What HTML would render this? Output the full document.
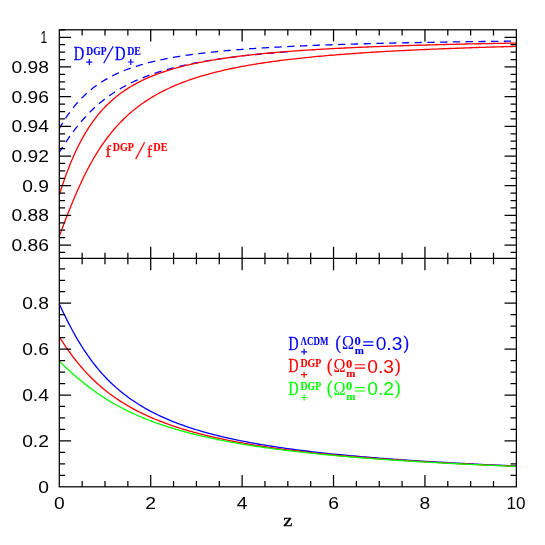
<!DOCTYPE html>
<html><head><meta charset="utf-8"><title>plot</title>
<style>
html,body{margin:0;padding:0;background:#fff;}
svg{display:block;}
text{font-family:"Liberation Sans",sans-serif;}
.se{font-family:"Liberation Serif",serif;}
.sk{stroke-width:0.35;paint-order:stroke;}
.sb{stroke-width:0.12;paint-order:stroke;}
</style></head><body>
<svg width="545" height="545" viewBox="0 0 545 545">
<rect width="545" height="545" fill="#fff"/>
<g fill="none" stroke-width="1.3" stroke-linejoin="round">
<path stroke="#00f" stroke-dasharray="7.3 5.45" stroke-dashoffset="0.7" d="M59.30,128.56 L61.59,124.65 L63.87,120.94 L66.16,117.43 L68.44,114.10 L70.73,110.96 L73.01,107.99 L75.30,105.18 L77.58,102.53 L79.87,100.03 L82.15,97.66 L84.44,95.42 L86.72,93.30 L89.01,91.30 L91.29,89.40 L93.58,87.61 L95.86,85.90 L98.15,84.29 L100.43,82.75 L102.72,81.29 L105.00,79.91 L107.29,78.59 L109.58,77.33 L111.86,76.13 L114.15,74.99 L116.43,73.90 L118.72,72.86 L121.00,71.87 L123.29,70.92 L125.57,70.01 L127.86,69.14 L130.14,68.31 L132.43,67.51 L134.71,66.74 L137.00,66.01 L139.28,65.30 L141.57,64.62 L143.85,63.97 L146.14,63.34 L148.42,62.74 L150.71,62.16 L153.00,61.60 L155.28,61.06 L157.57,60.54 L159.85,60.04 L162.14,59.55 L164.42,59.08 L166.71,58.63 L168.99,58.19 L171.28,57.77 L173.56,57.36 L175.85,56.97 L178.13,56.58 L180.42,56.21 L182.70,55.85 L184.99,55.51 L187.27,55.17 L189.56,54.84 L191.84,54.52 L194.13,54.21 L196.42,53.91 L198.70,53.62 L200.99,53.34 L203.27,53.07 L205.56,52.80 L207.84,52.54 L210.13,52.29 L212.41,52.04 L214.70,51.80 L216.98,51.57 L219.27,51.34 L221.55,51.12 L223.84,50.91 L226.12,50.70 L228.41,50.49 L230.69,50.29 L232.98,50.10 L235.26,49.91 L237.55,49.72 L239.83,49.54 L242.12,49.37 L244.41,49.19 L246.69,49.03 L248.98,48.86 L251.26,48.70 L253.55,48.54 L255.83,48.39 L258.12,48.24 L260.40,48.09 L262.69,47.95 L264.97,47.81 L267.26,47.67 L269.54,47.54 L271.83,47.41 L274.11,47.28 L276.40,47.15 L278.68,47.03 L280.97,46.91 L283.25,46.79 L285.54,46.67 L287.82,46.56 L290.11,46.45 L292.40,46.34 L294.68,46.23 L296.97,46.13 L299.25,46.03 L301.54,45.92 L303.82,45.83 L306.11,45.73 L308.39,45.63 L310.68,45.54 L312.96,45.45 L315.25,45.36 L317.53,45.27 L319.82,45.18 L322.10,45.10 L324.39,45.01 L326.67,44.93 L328.96,44.85 L331.24,44.77 L333.53,44.69 L335.82,44.62 L338.10,44.54 L340.39,44.47 L342.67,44.39 L344.96,44.32 L347.24,44.25 L349.53,44.18 L351.81,44.11 L354.10,44.05 L356.38,43.98 L358.67,43.92 L360.95,43.85 L363.24,43.79 L365.52,43.73 L367.81,43.67 L370.09,43.61 L372.38,43.55 L374.66,43.49 L376.95,43.43 L379.24,43.37 L381.52,43.32 L383.81,43.26 L386.09,43.21 L388.38,43.16 L390.66,43.11 L392.95,43.05 L395.23,43.00 L397.52,42.95 L399.80,42.90 L402.09,42.86 L404.37,42.81 L406.66,42.76 L408.94,42.71 L411.23,42.67 L413.51,42.62 L415.80,42.58 L418.08,42.53 L420.37,42.49 L422.65,42.45 L424.94,42.41 L427.23,42.36 L429.51,42.32 L431.80,42.28 L434.08,42.24 L436.37,42.20 L438.65,42.16 L440.94,42.13 L443.22,42.09 L445.51,42.05 L447.79,42.01 L450.08,41.98 L452.36,41.94 L454.65,41.91 L456.93,41.87 L459.22,41.84 L461.50,41.80 L463.79,41.77 L466.07,41.73 L468.36,41.70 L470.64,41.67 L472.93,41.64 L475.22,41.61 L477.50,41.57 L479.79,41.54 L482.07,41.51 L484.36,41.48 L486.64,41.45 L488.93,41.42 L491.21,41.39 L493.50,41.36 L495.78,41.34 L498.07,41.31 L500.35,41.28 L502.64,41.25 L504.92,41.23 L507.21,41.20 L509.49,41.17 L511.78,41.15 L514.06,41.12 L516.35,41.09"/>
<path stroke="#00f" stroke-dasharray="7.3 5.45" stroke-dashoffset="0.7" d="M59.30,152.37 L61.59,148.73 L63.87,145.18 L66.16,141.73 L68.44,138.37 L70.73,135.13 L73.01,131.99 L75.30,128.96 L77.58,126.05 L79.87,123.24 L82.15,120.54 L84.44,117.95 L86.72,115.46 L89.01,113.07 L91.29,110.78 L93.58,108.58 L95.86,106.47 L98.15,104.45 L100.43,102.51 L102.72,100.65 L105.00,98.87 L107.29,97.16 L109.58,95.52 L111.86,93.94 L114.15,92.43 L116.43,90.98 L118.72,89.58 L121.00,88.24 L123.29,86.95 L125.57,85.71 L127.86,84.52 L130.14,83.37 L132.43,82.27 L134.71,81.20 L137.00,80.18 L139.28,79.19 L141.57,78.24 L143.85,77.32 L146.14,76.43 L148.42,75.57 L150.71,74.75 L153.00,73.95 L155.28,73.17 L157.57,72.43 L159.85,71.71 L162.14,71.01 L164.42,70.33 L166.71,69.68 L168.99,69.04 L171.28,68.43 L173.56,67.83 L175.85,67.25 L178.13,66.69 L180.42,66.15 L182.70,65.62 L184.99,65.11 L187.27,64.61 L189.56,64.13 L191.84,63.66 L194.13,63.21 L196.42,62.76 L198.70,62.33 L200.99,61.91 L203.27,61.50 L205.56,61.11 L207.84,60.72 L210.13,60.34 L212.41,59.98 L214.70,59.62 L216.98,59.27 L219.27,58.93 L221.55,58.60 L223.84,58.28 L226.12,57.96 L228.41,57.65 L230.69,57.36 L232.98,57.06 L235.26,56.78 L237.55,56.50 L239.83,56.23 L242.12,55.96 L244.41,55.70 L246.69,55.44 L248.98,55.20 L251.26,54.95 L253.55,54.72 L255.83,54.48 L258.12,54.26 L260.40,54.03 L262.69,53.82 L264.97,53.60 L267.26,53.39 L269.54,53.19 L271.83,52.99 L274.11,52.79 L276.40,52.60 L278.68,52.41 L280.97,52.23 L283.25,52.05 L285.54,51.87 L287.82,51.70"/>
<path stroke="#f00" d="M59.30,194.74 L61.59,187.70 L63.87,180.99 L66.16,174.60 L68.44,168.55 L70.73,162.83 L73.01,157.41 L75.30,152.30 L77.58,147.48 L79.87,142.94 L82.15,138.65 L84.44,134.60 L86.72,130.79 L89.01,127.19 L91.29,123.80 L93.58,120.59 L95.86,117.56 L98.15,114.69 L100.43,111.98 L102.72,109.41 L105.00,106.98 L107.29,104.67 L109.58,102.48 L111.86,100.40 L114.15,98.42 L116.43,96.54 L118.72,94.75 L121.00,93.04 L123.29,91.42 L125.57,89.87 L127.86,88.39 L130.14,86.97 L132.43,85.62 L134.71,84.32 L137.00,83.08 L139.28,81.90 L141.57,80.76 L143.85,79.67 L146.14,78.62 L148.42,77.61 L150.71,76.65 L153.00,75.72 L155.28,74.82 L157.57,73.96 L159.85,73.14 L162.14,72.34 L164.42,71.57 L166.71,70.82 L168.99,70.11 L171.28,69.42 L173.56,68.75 L175.85,68.10 L178.13,67.48 L180.42,66.88 L182.70,66.29 L184.99,65.73 L187.27,65.18 L189.56,64.65 L191.84,64.14 L194.13,63.64 L196.42,63.16 L198.70,62.69 L200.99,62.23 L203.27,61.79 L205.56,61.36 L207.84,60.95 L210.13,60.54 L212.41,60.15 L214.70,59.77 L216.98,59.40 L219.27,59.03 L221.55,58.68 L223.84,58.34 L226.12,58.01 L228.41,57.68 L230.69,57.36 L232.98,57.06 L235.26,56.76 L237.55,56.46 L239.83,56.18 L242.12,55.90 L244.41,55.62 L246.69,55.36 L248.98,55.10 L251.26,54.85 L253.55,54.60 L255.83,54.36 L258.12,54.12 L260.40,53.89 L262.69,53.67 L264.97,53.44 L267.26,53.23 L269.54,53.02 L271.83,52.81 L274.11,52.61 L276.40,52.41 L278.68,52.22 L280.97,52.03 L283.25,51.85 L285.54,51.66 L287.82,51.49 L290.11,51.31 L292.40,51.14 L294.68,50.97 L296.97,50.81 L299.25,50.65 L301.54,50.49 L303.82,50.34 L306.11,50.19 L308.39,50.04 L310.68,49.89 L312.96,49.75 L315.25,49.61 L317.53,49.47 L319.82,49.34 L322.10,49.20 L324.39,49.07 L326.67,48.95 L328.96,48.82 L331.24,48.70 L333.53,48.58 L335.82,48.46 L338.10,48.34 L340.39,48.23 L342.67,48.11 L344.96,48.00 L347.24,47.89 L349.53,47.79 L351.81,47.68 L354.10,47.58 L356.38,47.47 L358.67,47.37 L360.95,47.27 L363.24,47.18 L365.52,47.08 L367.81,46.99 L370.09,46.90 L372.38,46.80 L374.66,46.71 L376.95,46.63 L379.24,46.54 L381.52,46.45 L383.81,46.37 L386.09,46.29 L388.38,46.21 L390.66,46.12 L392.95,46.05 L395.23,45.97 L397.52,45.89 L399.80,45.81 L402.09,45.74 L404.37,45.67 L406.66,45.59 L408.94,45.52 L411.23,45.45 L413.51,45.38 L415.80,45.31 L418.08,45.25 L420.37,45.18 L422.65,45.11 L424.94,45.05 L427.23,44.99 L429.51,44.92 L431.80,44.86 L434.08,44.80 L436.37,44.74 L438.65,44.68 L440.94,44.62 L443.22,44.56 L445.51,44.50 L447.79,44.45 L450.08,44.39 L452.36,44.34 L454.65,44.28 L456.93,44.23 L459.22,44.18 L461.50,44.12 L463.79,44.07 L466.07,44.02 L468.36,43.97 L470.64,43.92 L472.93,43.87 L475.22,43.82 L477.50,43.77 L479.79,43.73 L482.07,43.68 L484.36,43.63 L486.64,43.59 L488.93,43.54 L491.21,43.50 L493.50,43.45 L495.78,43.41 L498.07,43.37 L500.35,43.33 L502.64,43.28 L504.92,43.24 L507.21,43.20 L509.49,43.16 L511.78,43.12 L514.06,43.08 L516.35,43.04"/>
<path stroke="#f00" d="M59.30,236.29 L61.59,230.12 L63.87,224.04 L66.16,218.05 L68.44,212.18 L70.73,206.45 L73.01,200.88 L75.30,195.46 L77.58,190.22 L79.87,185.15 L82.15,180.26 L84.44,175.55 L86.72,171.02 L89.01,166.67 L91.29,162.50 L93.58,158.49 L95.86,154.65 L98.15,150.97 L100.43,147.45 L102.72,144.07 L105.00,140.84 L107.29,137.75 L109.58,134.78 L111.86,131.94 L114.15,129.22 L116.43,126.61 L118.72,124.12 L121.00,121.72 L123.29,119.42 L125.57,117.22 L127.86,115.11 L130.14,113.08 L132.43,111.13 L134.71,109.25 L137.00,107.45 L139.28,105.72 L141.57,104.06 L143.85,102.46 L146.14,100.91 L148.42,99.43 L150.71,98.00 L153.00,96.62 L155.28,95.29 L157.57,94.00 L159.85,92.76 L162.14,91.57 L164.42,90.41 L166.71,89.29 L168.99,88.22 L171.28,87.17 L173.56,86.16 L175.85,85.19 L178.13,84.24 L180.42,83.32 L182.70,82.44 L184.99,81.58 L187.27,80.74 L189.56,79.94 L191.84,79.15 L194.13,78.39 L196.42,77.65 L198.70,76.93 L200.99,76.24 L203.27,75.56 L205.56,74.90 L207.84,74.26 L210.13,73.64 L212.41,73.04 L214.70,72.45 L216.98,71.87 L219.27,71.32 L221.55,70.77 L223.84,70.24 L226.12,69.73 L228.41,69.23 L230.69,68.74 L232.98,68.26 L235.26,67.79 L237.55,67.34 L239.83,66.90 L242.12,66.46 L244.41,66.04 L246.69,65.63 L248.98,65.23 L251.26,64.83 L253.55,64.45 L255.83,64.07 L258.12,63.71 L260.40,63.35 L262.69,63.00 L264.97,62.65 L267.26,62.32 L269.54,61.99 L271.83,61.67 L274.11,61.35 L276.40,61.05 L278.68,60.75 L280.97,60.45 L283.25,60.16 L285.54,59.88 L287.82,59.60 L290.11,59.33 L292.40,59.06 L294.68,58.80 L296.97,58.55 L299.25,58.30 L301.54,58.05 L303.82,57.81 L306.11,57.57 L308.39,57.34 L310.68,57.11 L312.96,56.89 L315.25,56.67 L317.53,56.45 L319.82,56.24 L322.10,56.04 L324.39,55.83 L326.67,55.63 L328.96,55.44 L331.24,55.24 L333.53,55.05 L335.82,54.87 L338.10,54.68 L340.39,54.50 L342.67,54.33 L344.96,54.15 L347.24,53.98 L349.53,53.81 L351.81,53.65 L354.10,53.48 L356.38,53.32 L358.67,53.17 L360.95,53.01 L363.24,52.86 L365.52,52.71 L367.81,52.56 L370.09,52.42 L372.38,52.27 L374.66,52.13 L376.95,52.00 L379.24,51.86 L381.52,51.72 L383.81,51.59 L386.09,51.46 L388.38,51.33 L390.66,51.21 L392.95,51.08 L395.23,50.96 L397.52,50.84 L399.80,50.72 L402.09,50.60 L404.37,50.49 L406.66,50.37 L408.94,50.26 L411.23,50.15 L413.51,50.04 L415.80,49.93 L418.08,49.83 L420.37,49.72 L422.65,49.62 L424.94,49.52 L427.23,49.42 L429.51,49.32 L431.80,49.22 L434.08,49.12 L436.37,49.03 L438.65,48.94 L440.94,48.84 L443.22,48.75 L445.51,48.66 L447.79,48.57 L450.08,48.48 L452.36,48.40 L454.65,48.31 L456.93,48.23 L459.22,48.14 L461.50,48.06 L463.79,47.98 L466.07,47.90 L468.36,47.82 L470.64,47.74 L472.93,47.66 L475.22,47.59 L477.50,47.51 L479.79,47.44 L482.07,47.36 L484.36,47.29 L486.64,47.22 L488.93,47.15 L491.21,47.08 L493.50,47.01 L495.78,46.94 L498.07,46.87 L500.35,46.81 L502.64,46.74 L504.92,46.67 L507.21,46.61 L509.49,46.55 L511.78,46.48 L514.06,46.42 L516.35,46.36"/>
<path stroke="#00f" d="M59.30,304.06 L61.59,308.95 L63.87,313.73 L66.16,318.38 L68.44,322.90 L70.73,327.28 L73.01,331.51 L75.30,335.61 L77.58,339.56 L79.87,343.37 L82.15,347.03 L84.44,350.56 L86.72,353.96 L89.01,357.22 L91.29,360.36 L93.58,363.38 L95.86,366.27 L98.15,369.06 L100.43,371.74 L102.72,374.32 L105.00,376.80 L107.29,379.18 L109.58,381.47 L111.86,383.68 L114.15,385.81 L116.43,387.86 L118.72,389.83 L121.00,391.73 L123.29,393.57 L125.57,395.34 L127.86,397.05 L130.14,398.70 L132.43,400.29 L134.71,401.83 L137.00,403.32 L139.28,404.76 L141.57,406.16 L143.85,407.51 L146.14,408.82 L148.42,410.08 L150.71,411.31 L153.00,412.50 L155.28,413.66 L157.57,414.78 L159.85,415.87 L162.14,416.92 L164.42,417.95 L166.71,418.95 L168.99,419.92 L171.28,420.86 L173.56,421.78 L175.85,422.67 L178.13,423.54 L180.42,424.39 L182.70,425.22 L184.99,426.02 L187.27,426.80 L189.56,427.57 L191.84,428.31 L194.13,429.04 L196.42,429.75 L198.70,430.44 L200.99,431.12 L203.27,431.78 L205.56,432.43 L207.84,433.06 L210.13,433.67 L212.41,434.28 L214.70,434.86 L216.98,435.44 L219.27,436.00 L221.55,436.56 L223.84,437.10 L226.12,437.62 L228.41,438.14 L230.69,438.65 L232.98,439.15 L235.26,439.63 L237.55,440.11 L239.83,440.58 L242.12,441.03 L244.41,441.48 L246.69,441.92 L248.98,442.36 L251.26,442.78 L253.55,443.20 L255.83,443.60 L258.12,444.01 L260.40,444.40 L262.69,444.79 L264.97,445.16 L267.26,445.54 L269.54,445.90 L271.83,446.26 L274.11,446.62 L276.40,446.96 L278.68,447.31 L280.97,447.64 L283.25,447.97 L285.54,448.30 L287.82,448.62 L290.11,448.93 L292.40,449.24 L294.68,449.54 L296.97,449.84 L299.25,450.14 L301.54,450.43 L303.82,450.71 L306.11,450.99 L308.39,451.27 L310.68,451.54 L312.96,451.81 L315.25,452.07 L317.53,452.33 L319.82,452.59 L322.10,452.84 L324.39,453.09 L326.67,453.33 L328.96,453.58 L331.24,453.81 L333.53,454.05 L335.82,454.28 L338.10,454.51 L340.39,454.73 L342.67,454.96 L344.96,455.18 L347.24,455.39 L349.53,455.60 L351.81,455.81 L354.10,456.02 L356.38,456.23 L358.67,456.43 L360.95,456.63 L363.24,456.82 L365.52,457.02 L367.81,457.21 L370.09,457.40 L372.38,457.59 L374.66,457.77 L376.95,457.95 L379.24,458.13 L381.52,458.31 L383.81,458.49 L386.09,458.66 L388.38,458.83 L390.66,459.00 L392.95,459.17 L395.23,459.33 L397.52,459.50 L399.80,459.66 L402.09,459.82 L404.37,459.97 L406.66,460.13 L408.94,460.28 L411.23,460.44 L413.51,460.59 L415.80,460.73 L418.08,460.88 L420.37,461.03 L422.65,461.17 L424.94,461.31 L427.23,461.45 L429.51,461.59 L431.80,461.73 L434.08,461.87 L436.37,462.00 L438.65,462.13 L440.94,462.27 L443.22,462.40 L445.51,462.52 L447.79,462.65 L450.08,462.78 L452.36,462.90 L454.65,463.03 L456.93,463.15 L459.22,463.27 L461.50,463.39 L463.79,463.51 L466.07,463.63 L468.36,463.74 L470.64,463.86 L472.93,463.97 L475.22,464.09 L477.50,464.20 L479.79,464.31 L482.07,464.42 L484.36,464.53 L486.64,464.63 L488.93,464.74 L491.21,464.85 L493.50,464.95 L495.78,465.05 L498.07,465.16 L500.35,465.26 L502.64,465.36 L504.92,465.46 L507.21,465.56 L509.49,465.65 L511.78,465.75 L514.06,465.85 L516.35,465.94"/>
<path stroke="#f00" d="M59.30,336.80 L61.59,340.40 L63.87,343.88 L66.16,347.27 L68.44,350.55 L70.73,353.72 L73.01,356.79 L75.30,359.75 L77.58,362.61 L79.87,365.38 L82.15,368.04 L84.44,370.62 L86.72,373.10 L89.01,375.49 L91.29,377.80 L93.58,380.04 L95.86,382.19 L98.15,384.27 L100.43,386.27 L102.72,388.21 L105.00,390.09 L107.29,391.90 L109.58,393.65 L111.86,395.34 L114.15,396.98 L116.43,398.57 L118.72,400.10 L121.00,401.59 L123.29,403.03 L125.57,404.42 L127.86,405.78 L130.14,407.09 L132.43,408.36 L134.71,409.60 L137.00,410.80 L139.28,411.96 L141.57,413.09 L143.85,414.19 L146.14,415.26 L148.42,416.30 L150.71,417.31 L153.00,418.30 L155.28,419.25 L157.57,420.19 L159.85,421.09 L162.14,421.98 L164.42,422.84 L166.71,423.68 L168.99,424.50 L171.28,425.30 L173.56,426.08 L175.85,426.84 L178.13,427.59 L180.42,428.31 L182.70,429.02 L184.99,429.71 L187.27,430.39 L189.56,431.05 L191.84,431.69 L194.13,432.33 L196.42,432.94 L198.70,433.55 L200.99,434.14 L203.27,434.72 L205.56,435.28 L207.84,435.84 L210.13,436.38 L212.41,436.91 L214.70,437.43 L216.98,437.94 L219.27,438.44 L221.55,438.93 L223.84,439.42 L226.12,439.89 L228.41,440.35 L230.69,440.80 L232.98,441.25 L235.26,441.68 L237.55,442.11 L239.83,442.53 L242.12,442.95 L244.41,443.35 L246.69,443.75 L248.98,444.14 L251.26,444.52 L253.55,444.90 L255.83,445.27 L258.12,445.64 L260.40,446.00 L262.69,446.35 L264.97,446.69 L267.26,447.03 L269.54,447.37 L271.83,447.70 L274.11,448.02 L276.40,448.34 L278.68,448.65 L280.97,448.96 L283.25,449.27 L285.54,449.57 L287.82,449.86 L290.11,450.15 L292.40,450.43 L294.68,450.72 L296.97,450.99 L299.25,451.26 L301.54,451.53 L303.82,451.80 L306.11,452.06 L308.39,452.31 L310.68,452.57 L312.96,452.82 L315.25,453.06 L317.53,453.31 L319.82,453.54 L322.10,453.78 L324.39,454.01 L326.67,454.24 L328.96,454.47 L331.24,454.69 L333.53,454.91 L335.82,455.13 L338.10,455.34 L340.39,455.55 L342.67,455.76 L344.96,455.97 L347.24,456.17 L349.53,456.37 L351.81,456.57 L354.10,456.76 L356.38,456.96 L358.67,457.15 L360.95,457.33 L363.24,457.52 L365.52,457.70 L367.81,457.88 L370.09,458.06 L372.38,458.24 L374.66,458.41 L376.95,458.59 L379.24,458.76 L381.52,458.93 L383.81,459.09 L386.09,459.26 L388.38,459.42 L390.66,459.58 L392.95,459.74 L395.23,459.89 L397.52,460.05 L399.80,460.20 L402.09,460.36 L404.37,460.50 L406.66,460.65 L408.94,460.80 L411.23,460.94 L413.51,461.09 L415.80,461.23 L418.08,461.37 L420.37,461.51 L422.65,461.65 L424.94,461.78 L427.23,461.92 L429.51,462.05 L431.80,462.18 L434.08,462.31 L436.37,462.44 L438.65,462.57 L440.94,462.69 L443.22,462.82 L445.51,462.94 L447.79,463.06 L450.08,463.18 L452.36,463.30 L454.65,463.42 L456.93,463.54 L459.22,463.66 L461.50,463.77 L463.79,463.89 L466.07,464.00 L468.36,464.11 L470.64,464.22 L472.93,464.33 L475.22,464.44 L477.50,464.55 L479.79,464.65 L482.07,464.76 L484.36,464.86 L486.64,464.97 L488.93,465.07 L491.21,465.17 L493.50,465.27 L495.78,465.37 L498.07,465.47 L500.35,465.57 L502.64,465.67 L504.92,465.76 L507.21,465.86 L509.49,465.95 L511.78,466.04 L514.06,466.14 L516.35,466.23"/>
<path stroke="#0f0" d="M59.30,361.31 L61.59,363.48 L63.87,365.63 L66.16,367.76 L68.44,369.87 L70.73,371.94 L73.01,373.98 L75.30,375.98 L77.58,377.94 L79.87,379.87 L82.15,381.75 L84.44,383.59 L86.72,385.38 L89.01,387.14 L91.29,388.85 L93.58,390.52 L95.86,392.15 L98.15,393.74 L100.43,395.29 L102.72,396.79 L105.00,398.26 L107.29,399.69 L109.58,401.09 L111.86,402.44 L114.15,403.76 L116.43,405.05 L118.72,406.30 L121.00,407.53 L123.29,408.72 L125.57,409.88 L127.86,411.01 L130.14,412.11 L132.43,413.18 L134.71,414.23 L137.00,415.25 L139.28,416.24 L141.57,417.21 L143.85,418.16 L146.14,419.08 L148.42,419.98 L150.71,420.86 L153.00,421.72 L155.28,422.56 L157.57,423.38 L159.85,424.18 L162.14,424.96 L164.42,425.72 L166.71,426.47 L168.99,427.20 L171.28,427.91 L173.56,428.61 L175.85,429.29 L178.13,429.96 L180.42,430.61 L182.70,431.25 L184.99,431.87 L187.27,432.49 L189.56,433.09 L191.84,433.67 L194.13,434.25 L196.42,434.81 L198.70,435.36 L200.99,435.90 L203.27,436.43 L205.56,436.95 L207.84,437.46 L210.13,437.96 L212.41,438.45 L214.70,438.93 L216.98,439.41 L219.27,439.87 L221.55,440.32 L223.84,440.77 L226.12,441.21 L228.41,441.64 L230.69,442.06 L232.98,442.47 L235.26,442.88 L237.55,443.28 L239.83,443.67 L242.12,444.06 L244.41,444.44 L246.69,444.81 L248.98,445.18 L251.26,445.54 L253.55,445.90 L255.83,446.24 L258.12,446.59 L260.40,446.92 L262.69,447.26 L264.97,447.58 L267.26,447.91 L269.54,448.22 L271.83,448.53 L274.11,448.84 L276.40,449.14 L278.68,449.44 L280.97,449.73 L283.25,450.02 L285.54,450.30 L287.82,450.58 L290.11,450.86 L292.40,451.13 L294.68,451.40 L296.97,451.66 L299.25,451.92 L301.54,452.18 L303.82,452.43 L306.11,452.68 L308.39,452.92 L310.68,453.17 L312.96,453.40 L315.25,453.64 L317.53,453.87 L319.82,454.10 L322.10,454.33 L324.39,454.55 L326.67,454.77 L328.96,454.99 L331.24,455.20 L333.53,455.41 L335.82,455.62 L338.10,455.83 L340.39,456.03 L342.67,456.23 L344.96,456.43 L347.24,456.62 L349.53,456.82 L351.81,457.01 L354.10,457.19 L356.38,457.38 L358.67,457.56 L360.95,457.74 L363.24,457.92 L365.52,458.10 L367.81,458.28 L370.09,458.45 L372.38,458.62 L374.66,458.79 L376.95,458.95 L379.24,459.12 L381.52,459.28 L383.81,459.44 L386.09,459.60 L388.38,459.76 L390.66,459.92 L392.95,460.07 L395.23,460.22 L397.52,460.37 L399.80,460.52 L402.09,460.67 L404.37,460.81 L406.66,460.96 L408.94,461.10 L411.23,461.24 L413.51,461.38 L415.80,461.52 L418.08,461.65 L420.37,461.79 L422.65,461.92 L424.94,462.05 L427.23,462.18 L429.51,462.31 L431.80,462.44 L434.08,462.57 L436.37,462.69 L438.65,462.82 L440.94,462.94 L443.22,463.06 L445.51,463.18 L447.79,463.30 L450.08,463.42 L452.36,463.54 L454.65,463.65 L456.93,463.77 L459.22,463.88 L461.50,463.99 L463.79,464.10 L466.07,464.21 L468.36,464.32 L470.64,464.43 L472.93,464.54 L475.22,464.64 L477.50,464.75 L479.79,464.85 L482.07,464.96 L484.36,465.06 L486.64,465.16 L488.93,465.26 L491.21,465.36 L493.50,465.46 L495.78,465.56 L498.07,465.65 L500.35,465.75 L502.64,465.84 L504.92,465.94 L507.21,466.03 L509.49,466.12 L511.78,466.22 L514.06,466.31 L516.35,466.40"/>
</g>
<g fill="none" stroke="#000" stroke-width="1.25">
<rect x="59.3" y="29.8" width="457.05" height="457.00"/>
<path d="M59.3,258.45 H516.35"/>
<path d="M82.15,29.80 v5.80 M82.15,252.65 v11.60 M82.15,486.80 v-5.80 M105.00,29.80 v5.80 M105.00,252.65 v11.60 M105.00,486.80 v-5.80 M127.86,29.80 v5.80 M127.86,252.65 v11.60 M127.86,486.80 v-5.80 M150.71,29.80 v11.80 M150.71,246.65 v23.60 M150.71,486.80 v-11.80 M173.56,29.80 v5.80 M173.56,252.65 v11.60 M173.56,486.80 v-5.80 M196.42,29.80 v5.80 M196.42,252.65 v11.60 M196.42,486.80 v-5.80 M219.27,29.80 v5.80 M219.27,252.65 v11.60 M219.27,486.80 v-5.80 M242.12,29.80 v11.80 M242.12,246.65 v23.60 M242.12,486.80 v-11.80 M264.97,29.80 v5.80 M264.97,252.65 v11.60 M264.97,486.80 v-5.80 M287.82,29.80 v5.80 M287.82,252.65 v11.60 M287.82,486.80 v-5.80 M310.68,29.80 v5.80 M310.68,252.65 v11.60 M310.68,486.80 v-5.80 M333.53,29.80 v11.80 M333.53,246.65 v23.60 M333.53,486.80 v-11.80 M356.38,29.80 v5.80 M356.38,252.65 v11.60 M356.38,486.80 v-5.80 M379.24,29.80 v5.80 M379.24,252.65 v11.60 M379.24,486.80 v-5.80 M402.09,29.80 v5.80 M402.09,252.65 v11.60 M402.09,486.80 v-5.80 M424.94,29.80 v11.80 M424.94,246.65 v23.60 M424.94,486.80 v-11.80 M447.79,29.80 v5.80 M447.79,252.65 v11.60 M447.79,486.80 v-5.80 M470.64,29.80 v5.80 M470.64,252.65 v11.60 M470.64,486.80 v-5.80 M493.50,29.80 v5.80 M493.50,252.65 v11.60 M493.50,486.80 v-5.80 M59.30,252.48 h5.80 M516.35,252.48 h-5.80 M59.30,245.06 h11.80 M516.35,245.06 h-11.80 M59.30,237.64 h5.80 M516.35,237.64 h-5.80 M59.30,230.22 h5.80 M516.35,230.22 h-5.80 M59.30,222.80 h5.80 M516.35,222.80 h-5.80 M59.30,215.38 h11.80 M516.35,215.38 h-11.80 M59.30,207.96 h5.80 M516.35,207.96 h-5.80 M59.30,200.54 h5.80 M516.35,200.54 h-5.80 M59.30,193.12 h5.80 M516.35,193.12 h-5.80 M59.30,185.70 h11.80 M516.35,185.70 h-11.80 M59.30,178.28 h5.80 M516.35,178.28 h-5.80 M59.30,170.86 h5.80 M516.35,170.86 h-5.80 M59.30,163.44 h5.80 M516.35,163.44 h-5.80 M59.30,156.02 h11.80 M516.35,156.02 h-11.80 M59.30,148.60 h5.80 M516.35,148.60 h-5.80 M59.30,141.18 h5.80 M516.35,141.18 h-5.80 M59.30,133.76 h5.80 M516.35,133.76 h-5.80 M59.30,126.34 h11.80 M516.35,126.34 h-11.80 M59.30,118.92 h5.80 M516.35,118.92 h-5.80 M59.30,111.50 h5.80 M516.35,111.50 h-5.80 M59.30,104.08 h5.80 M516.35,104.08 h-5.80 M59.30,96.66 h11.80 M516.35,96.66 h-11.80 M59.30,89.24 h5.80 M516.35,89.24 h-5.80 M59.30,81.82 h5.80 M516.35,81.82 h-5.80 M59.30,74.40 h5.80 M516.35,74.40 h-5.80 M59.30,66.98 h11.80 M516.35,66.98 h-11.80 M59.30,59.56 h5.80 M516.35,59.56 h-5.80 M59.30,52.14 h5.80 M516.35,52.14 h-5.80 M59.30,44.72 h5.80 M516.35,44.72 h-5.80 M59.30,37.30 h11.80 M516.35,37.30 h-11.80 M59.30,29.88 h5.80 M59.30,475.32 h5.80 M516.35,475.32 h-5.80 M59.30,463.85 h5.80 M516.35,463.85 h-5.80 M59.30,452.38 h5.80 M516.35,452.38 h-5.80 M59.30,440.90 h11.80 M516.35,440.90 h-11.80 M59.30,429.43 h5.80 M516.35,429.43 h-5.80 M59.30,417.95 h5.80 M516.35,417.95 h-5.80 M59.30,406.48 h5.80 M516.35,406.48 h-5.80 M59.30,395.00 h11.80 M516.35,395.00 h-11.80 M59.30,383.52 h5.80 M516.35,383.52 h-5.80 M59.30,372.05 h5.80 M516.35,372.05 h-5.80 M59.30,360.57 h5.80 M516.35,360.57 h-5.80 M59.30,349.10 h11.80 M516.35,349.10 h-11.80 M59.30,337.62 h5.80 M516.35,337.62 h-5.80 M59.30,326.15 h5.80 M516.35,326.15 h-5.80 M59.30,314.68 h5.80 M516.35,314.68 h-5.80 M59.30,303.20 h11.80 M516.35,303.20 h-11.80 M59.30,291.73 h5.80 M516.35,291.73 h-5.80 M59.30,280.25 h5.80 M516.35,280.25 h-5.80 M59.30,268.77 h5.80 M516.35,268.77 h-5.80"/>
</g>
<g opacity="0.999">
<text transform="translate(40.58,43.10) scale(0.715,1)" font-size="16.86" fill="#000">1</text>
<text transform="translate(48.90,72.93) scale(1.160,1)" text-anchor="end" font-size="16.60" fill="#000">0.98</text>
<text transform="translate(48.90,102.61) scale(1.160,1)" text-anchor="end" font-size="16.60" fill="#000">0.96</text>
<text transform="translate(48.90,132.29) scale(1.160,1)" text-anchor="end" font-size="16.60" fill="#000">0.94</text>
<text transform="translate(48.90,161.97) scale(1.160,1)" text-anchor="end" font-size="16.60" fill="#000">0.92</text>
<text transform="translate(48.90,191.65) scale(1.160,1)" text-anchor="end" font-size="16.60" fill="#000">0.9</text>
<text transform="translate(48.90,221.33) scale(1.160,1)" text-anchor="end" font-size="16.60" fill="#000">0.88</text>
<text transform="translate(48.90,251.01) scale(1.160,1)" text-anchor="end" font-size="16.60" fill="#000">0.86</text>
<text transform="translate(48.90,309.15) scale(1.160,1)" text-anchor="end" font-size="16.60" fill="#000">0.8</text>
<text transform="translate(48.90,355.05) scale(1.160,1)" text-anchor="end" font-size="16.60" fill="#000">0.6</text>
<text transform="translate(48.90,400.95) scale(1.160,1)" text-anchor="end" font-size="16.60" fill="#000">0.4</text>
<text transform="translate(48.90,446.85) scale(1.160,1)" text-anchor="end" font-size="16.60" fill="#000">0.2</text>
<text transform="translate(48.90,492.75) scale(1.160,1)" text-anchor="end" font-size="16.60" fill="#000">0</text>
<text transform="translate(59.30,509.00) scale(1.160,1)" text-anchor="middle" font-size="16.60" fill="#000">0</text>
<text transform="translate(150.71,509.00) scale(1.160,1)" text-anchor="middle" font-size="16.60" fill="#000">2</text>
<text transform="translate(242.12,509.00) scale(1.160,1)" text-anchor="middle" font-size="16.60" fill="#000">4</text>
<text transform="translate(333.53,509.00) scale(1.160,1)" text-anchor="middle" font-size="16.60" fill="#000">6</text>
<text transform="translate(424.94,509.00) scale(1.160,1)" text-anchor="middle" font-size="16.60" fill="#000">8</text>
<text transform="translate(506.59,509.00) scale(1.033,1)" font-size="16.60" fill="#000">10</text>
</g>
<g opacity="0.999">
<text transform="translate(73.78,60.00) scale(0.799,1)" font-size="18.20" fill="#00f" class="se sk" stroke="#00f">D</text>
<text transform="translate(86.33,54.60) scale(0.834,1)" font-size="11.50" fill="#00f" class="se sb" font-weight="bold" stroke="#00f">DGP</text>
<path d="M86.30,62.10 h6.00 M89.30,59.10 v6.00" stroke="#00f" stroke-width="1.20" fill="none"/>
<path d="M103.70,63.20 L113.20,46.20" stroke="#00f" stroke-width="1.20" fill="none"/>
<text transform="translate(115.08,60.00) scale(0.799,1)" font-size="18.20" fill="#00f" class="se sk" stroke="#00f">D</text>
<text transform="translate(127.13,54.60) scale(0.863,1)" font-size="11.50" fill="#00f" class="se sb" font-weight="bold" stroke="#00f">DE</text>
<path d="M127.80,62.00 h6.00 M130.80,59.00 v6.00" stroke="#00f" stroke-width="1.20" fill="none"/>
<text transform="translate(105.59,156.60) scale(0.956,1)" font-size="17.30" fill="#f00" class="se sk" stroke="#f00">f</text>
<text transform="translate(112.72,151.20) scale(0.872,1)" font-size="11.50" fill="#f00" class="se sb" font-weight="bold" stroke="#f00">DGP</text>
<path d="M135.70,159.10 L144.60,142.30" stroke="#f00" stroke-width="1.20" fill="none"/>
<text transform="translate(147.03,156.60) scale(0.880,1)" font-size="17.30" fill="#f00" class="se sk" stroke="#f00">f</text>
<text transform="translate(153.32,151.20) scale(0.896,1)" font-size="11.50" fill="#f00" class="se sb" font-weight="bold" stroke="#f00">DE</text>
<text transform="translate(288.50,349.50) scale(0.765,1)" font-size="18.20" fill="#00f" class="se sk" stroke="#00f">D</text>
<text transform="translate(300.55,344.60) scale(0.782,1)" font-size="11.50" fill="#00f" class="se sb" font-weight="bold" stroke="#00f">ΛCDM</text>
<path d="M301.10,351.80 h6.00 M304.10,348.80 v6.00" stroke="#00f" stroke-width="1.20" fill="none"/>
<text transform="translate(335.40,348.77) scale(0.804,1)" font-size="19.85" fill="#00f" class="se sk" stroke="#00f">(</text>
<text transform="translate(341.96,349.40) scale(0.868,1)" font-size="18.73" fill="#00f" class="se">Ω</text>
<text transform="translate(354.42,344.69) scale(1.082,1)" font-size="11.56" fill="#00f" class="se sb" font-weight="bold" stroke="#00f">0</text>
<text transform="translate(354.70,354.30) scale(1.082,1)" font-size="10.19" fill="#00f" class="se sb" font-weight="bold" stroke="#00f">m</text>
<path d="M363.20,341.90 H373.40 M363.20,345.30 H373.40" stroke="#00f" stroke-width="1.20" fill="none"/>
<text transform="translate(375.65,349.75) scale(1.067,1)" font-size="18.00" fill="#00f">0.3</text>
<text transform="translate(403.49,348.77) scale(0.804,1)" font-size="19.85" fill="#00f" class="se sk" stroke="#00f">)</text>
<text transform="translate(288.50,372.35) scale(0.765,1)" font-size="18.20" fill="#f00" class="se sk" stroke="#f00">D</text>
<text transform="translate(300.43,367.45) scale(0.863,1)" font-size="11.50" fill="#f00" class="se sb" font-weight="bold" stroke="#f00">DGP</text>
<path d="M301.10,374.65 h6.00 M304.10,371.65 v6.00" stroke="#f00" stroke-width="1.20" fill="none"/>
<text transform="translate(327.00,371.62) scale(0.804,1)" font-size="19.85" fill="#f00" class="se sk" stroke="#f00">(</text>
<text transform="translate(333.56,372.25) scale(0.868,1)" font-size="18.73" fill="#f00" class="se">Ω</text>
<text transform="translate(346.02,367.54) scale(1.082,1)" font-size="11.56" fill="#f00" class="se sb" font-weight="bold" stroke="#f00">0</text>
<text transform="translate(346.30,377.15) scale(1.082,1)" font-size="10.19" fill="#f00" class="se sb" font-weight="bold" stroke="#f00">m</text>
<path d="M354.80,364.75 H365.00 M354.80,368.15 H365.00" stroke="#f00" stroke-width="1.20" fill="none"/>
<text transform="translate(367.25,372.60) scale(1.067,1)" font-size="18.00" fill="#f00">0.3</text>
<text transform="translate(395.09,371.62) scale(0.804,1)" font-size="19.85" fill="#f00" class="se sk" stroke="#f00">)</text>
<text transform="translate(288.50,395.20) scale(0.765,1)" font-size="18.20" fill="#0f0" class="se sk" stroke="#0f0">D</text>
<text transform="translate(300.43,390.30) scale(0.863,1)" font-size="11.50" fill="#0f0" class="se sb" font-weight="bold" stroke="#0f0">DGP</text>
<path d="M301.10,397.50 h6.00 M304.10,394.50 v6.00" stroke="#0f0" stroke-width="1.20" fill="none"/>
<text transform="translate(327.00,394.47) scale(0.804,1)" font-size="19.85" fill="#0f0" class="se sk" stroke="#0f0">(</text>
<text transform="translate(333.56,395.10) scale(0.868,1)" font-size="18.73" fill="#0f0" class="se">Ω</text>
<text transform="translate(346.02,390.39) scale(1.082,1)" font-size="11.56" fill="#0f0" class="se sb" font-weight="bold" stroke="#0f0">0</text>
<text transform="translate(346.30,400.00) scale(1.082,1)" font-size="10.19" fill="#0f0" class="se sb" font-weight="bold" stroke="#0f0">m</text>
<path d="M354.80,387.60 H365.00 M354.80,391.00 H365.00" stroke="#0f0" stroke-width="1.20" fill="none"/>
<text transform="translate(367.25,395.45) scale(1.072,1)" font-size="18.00" fill="#0f0">0.2</text>
<text transform="translate(395.09,394.47) scale(0.804,1)" font-size="19.85" fill="#0f0" class="se sk" stroke="#0f0">)</text>
<text transform="translate(283.35,526.10) scale(1.165,1)" font-size="17.65" fill="#000" class="se sk" stroke="#000">z</text>
</g>
</svg>
</body></html>
